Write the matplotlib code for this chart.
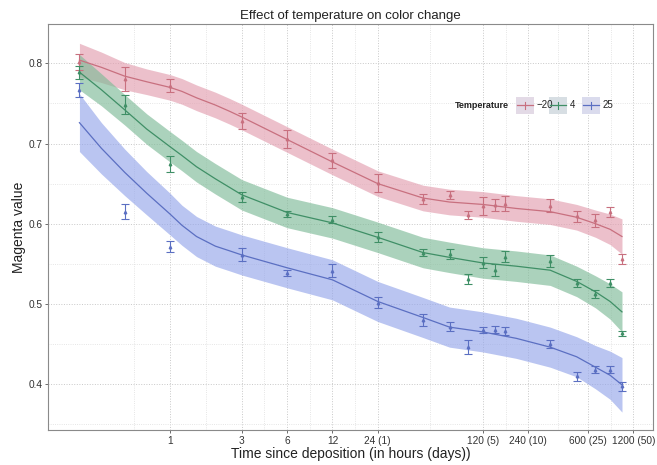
############################ imports ############################
import matplotlib
matplotlib.use('Agg')
import matplotlib.pyplot as plt
import matplotlib.patches as mpatches
from matplotlib.ticker import FixedLocator, NullFormatter
import numpy as np

plt.rcParams['font.family'] = ['Liberation Sans', 'DejaVu Sans']

############################ data ############################
# sampling times in hours
hours = [0.25, 0.5, 1, 3, 6, 12, 24, 48, 72, 96, 120, 144, 168, 336, 504, 672, 840, 1008]

# mean magenta value and half error bar per temperature
mean_m20 = [0.802, 0.781, 0.772, 0.728, 0.706, 0.679, 0.6505, 0.6305, 0.6355, 0.611, 0.622, 0.623,
            0.625, 0.6225, 0.609, 0.604, 0.6145, 0.556]
err_m20 = [0.010, 0.015, 0.008, 0.010, 0.011, 0.0095, 0.011, 0.006, 0.005, 0.005, 0.011, 0.0075,
           0.009, 0.008, 0.007, 0.008, 0.006, 0.006]

mean_4 = [0.789, 0.7485, 0.674, 0.633, 0.612, 0.605, 0.5835, 0.564, 0.562, 0.531, 0.5515, 0.5425,
          0.559, 0.554, 0.526, 0.5125, 0.526, 0.4635]
err_4 = [0.008, 0.012, 0.010, 0.006, 0.004, 0.0045, 0.006, 0.0045, 0.006, 0.006, 0.007, 0.0075,
         0.007, 0.0075, 0.0045, 0.005, 0.005, 0.003]

mean_25 = [0.767, 0.615, 0.5715, 0.5615, 0.5385, 0.5415, 0.5015, 0.4795, 0.4715, 0.4465, 0.4675,
           0.468, 0.4665, 0.4505, 0.4095, 0.418, 0.418, 0.397]
err_25 = [0.009, 0.009, 0.007, 0.008, 0.004, 0.008, 0.007, 0.0075, 0.0055, 0.009, 0.004, 0.004,
          0.005, 0.005, 0.0055, 0.0045, 0.0045, 0.0055]

# smoothed curves and their confidence band half widths
fit_hours = [0.25, 0.35, 0.5, 0.7, 1, 1.2, 1.5, 2, 2.5, 3, 6, 12, 24, 48, 72, 120, 200, 336, 504,
             672, 840, 1008]

fit_m20 = [0.804, 0.795, 0.784, 0.777, 0.770, 0.765, 0.757, 0.748, 0.740, 0.733, 0.705, 0.677,
           0.650, 0.632, 0.627, 0.624, 0.619, 0.615, 0.608, 0.600, 0.593, 0.584]
band_m20 = [0.021, 0.019, 0.017, 0.016, 0.016, 0.016, 0.016, 0.016, 0.016, 0.016, 0.016, 0.016,
            0.016, 0.016, 0.016, 0.016, 0.016, 0.016, 0.016, 0.017, 0.019, 0.022]

fit_4 = [0.789, 0.767, 0.742, 0.718, 0.696, 0.685, 0.671, 0.656, 0.645, 0.636, 0.614, 0.601,
         0.583, 0.564, 0.558, 0.551, 0.547, 0.542, 0.528, 0.515, 0.503, 0.490]
band_4 = [0.022, 0.020, 0.019, 0.019, 0.019, 0.019, 0.019, 0.019, 0.019, 0.019, 0.019, 0.019,
          0.019, 0.019, 0.019, 0.019, 0.019, 0.019, 0.019, 0.020, 0.022, 0.025]

fit_25 = [0.726, 0.694, 0.664, 0.638, 0.612, 0.598, 0.584, 0.572, 0.566, 0.561, 0.545, 0.530,
          0.503, 0.483, 0.471, 0.465, 0.457, 0.446, 0.434, 0.421, 0.411, 0.399]
band_25 = [0.036, 0.032, 0.029, 0.027, 0.026, 0.025, 0.025, 0.025, 0.025, 0.025, 0.025, 0.025,
           0.025, 0.025, 0.025, 0.025, 0.025, 0.025, 0.025, 0.027, 0.030, 0.034]

temp_labels = ['\u221220', '4', '25']

x_ticks = [1, 3, 6, 12, 24, 120, 240, 600, 1200]
x_tick_labels = ['1', '3', '6', '12', '24 (1)', '120 (5)', '240 (10)', '600 (25)', '1200 (50)']
y_ticks = [0.4, 0.5, 0.6, 0.7, 0.8]

############################ styles ############################
line_cols = ['#c8707f', '#3f8f66', '#5b6fc2']
band_cols = ['#e39fb0', '#7fbb98', '#95a6ea']
grid_col = '#c8c8c8'

############################ figure ############################
fig = plt.figure(figsize=(6.57, 4.65), dpi=100)
ax = fig.add_axes([0.0731, 0.0753, 0.9208, 0.8723])

series = [(mean_m20, err_m20, fit_m20, band_m20),
          (mean_4, err_4, fit_4, band_4),
          (mean_25, err_25, fit_25, band_25)]

for i, (m, e, f, b) in enumerate(series):
    f = np.array(f)
    b = np.array(b)
    ax.fill_between(fit_hours, f - b, f + b, color=band_cols[i], alpha=0.65, linewidth=0, zorder=2)
    ax.plot(fit_hours, f, color=line_cols[i], linewidth=0.9, zorder=3)
    ax.errorbar(hours, m, yerr=e, fmt='^', markersize=1.8, color=line_cols[i], ecolor=line_cols[i],
                elinewidth=0.8, capsize=3, capthick=0.8, zorder=4)

# ------------------ axes ------------------
ax.set_xscale('log')
ax.set_xlim(0.1546, 1620)
ax.set_ylim(0.3427, 0.8486)

ax.xaxis.set_major_locator(FixedLocator(x_ticks))
ax.set_xticklabels(x_tick_labels)
ax.xaxis.set_minor_locator(FixedLocator([0.58, 1.73, 4.24, 8.49, 16.97, 53.7, 169.7, 379, 848.5]))
ax.xaxis.set_minor_formatter(NullFormatter())
ax.set_yticks(y_ticks)
ax.set_yticklabels(['0.4', '0.5', '0.6', '0.7', '0.8'])
ax.yaxis.set_minor_locator(FixedLocator([0.35, 0.45, 0.55, 0.65, 0.75]))

ax.tick_params(axis='both', which='major', length=2.5, width=0.6, color='#555555',
               labelsize=7.3, labelcolor='#333333', pad=1.5)
ax.tick_params(axis='both', which='minor', length=0)

ax.grid(True, which='major', color=grid_col, linestyle=':', linewidth=0.7, zorder=0)
ax.grid(True, which='minor', color='#dddddd', linestyle=':', linewidth=0.6, zorder=0)
ax.set_axisbelow(True)

for sp in ax.spines.values():
    sp.set_color('#8a8a8a')
    sp.set_linewidth(0.8)

ax.set_xlabel('Time since deposition (in hours (days))', fontsize=10, color='#222222', labelpad=1)
ax.set_ylabel('Magenta value', fontsize=10, color='#222222', labelpad=2)
ax.set_title('Effect of temperature on color change', fontsize=9.5, color='#222222', pad=4)

# ------------------ legend (drawn by hand, horizontal like ggplot) ------------------
key_x = [0.7736, 0.8281, 0.8826]   # left edge of each key, axes fraction
key_w, key_h, key_y = 0.0298, 0.044, 0.80

ax.text(0.762, key_y, 'Temperature', transform=ax.transAxes, ha='right', va='center',
        fontsize=6.5, fontweight='bold', color='#222222')
for i in range(3):
    ax.add_patch(mpatches.Rectangle((key_x[i], key_y - key_h / 2), key_w, key_h,
                                    transform=ax.transAxes, facecolor='#e4e3ee',
                                    edgecolor='none', zorder=5))
    ax.add_patch(mpatches.Rectangle((key_x[i], key_y - key_h / 2), key_w, key_h,
                                    transform=ax.transAxes, facecolor=band_cols[i],
                                    alpha=0.12, edgecolor='none', zorder=5))
    ax.plot([key_x[i] + 0.002, key_x[i] + key_w - 0.002], [key_y, key_y], transform=ax.transAxes,
            color=line_cols[i], linewidth=0.9, zorder=6)
    ax.plot([key_x[i] + key_w / 2] * 2, [key_y - 0.008, key_y + 0.008], transform=ax.transAxes,
            color=line_cols[i], linewidth=0.8, zorder=6)
    ax.text(key_x[i] + key_w + 0.004, key_y, temp_labels[i], transform=ax.transAxes,
            ha='left', va='center', fontsize=7, color='#222222', zorder=6)

fig.savefig('out.png', dpi=100)
